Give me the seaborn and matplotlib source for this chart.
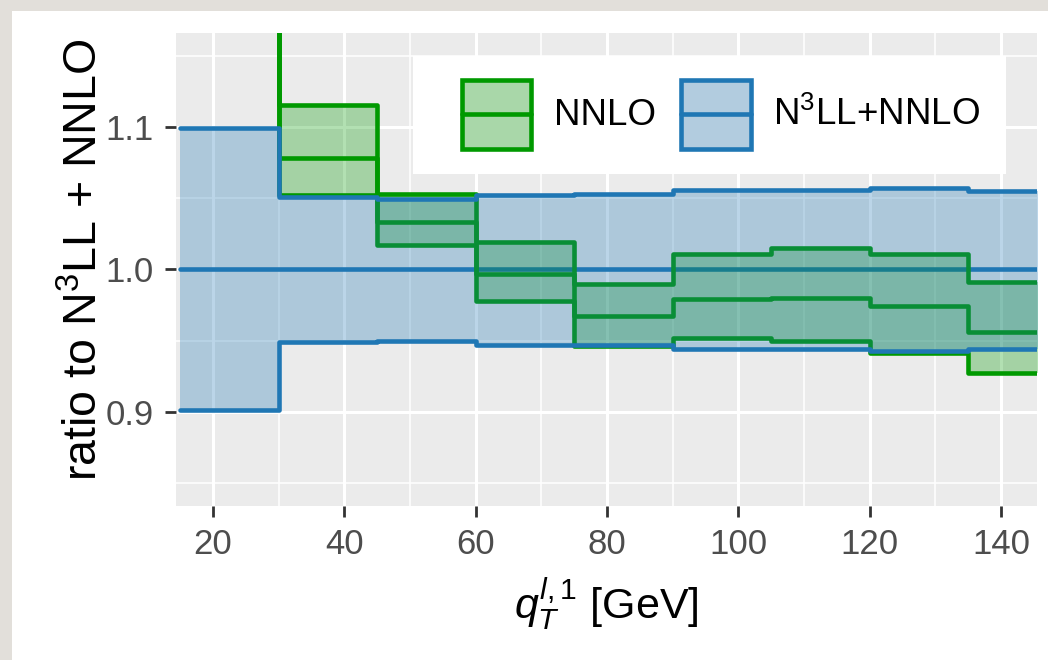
import numpy as np
import pandas as pd
import matplotlib
matplotlib.use("Agg")
import matplotlib.pyplot as plt
import seaborn as sns
from matplotlib.patches import Patch, Rectangle
from matplotlib.lines import Line2D
from matplotlib.legend_handler import HandlerBase
from matplotlib.ticker import MultipleLocator

# ---------------- data ----------------
bin_edges = [15, 30, 45, 60, 75, 90, 105, 120, 135, 150]
nnlo_central = [1.26, 1.078, 1.033, 0.997, 0.967, 0.979, 0.980, 0.974, 0.956]
nnlo_upper = [1.32, 1.115, 1.053, 1.019, 0.990, 1.011, 1.015, 1.011, 0.991]
nnlo_lower = [1.21, 1.052, 1.017, 0.978, 0.946, 0.952, 0.950, 0.9415, 0.927]
resum_central = [1.0, 1.0, 1.0, 1.0, 1.0, 1.0, 1.0, 1.0, 1.0]
resum_upper = [1.099, 1.051, 1.049, 1.052, 1.053, 1.056, 1.056, 1.057, 1.055]
resum_lower = [0.901, 0.949, 0.950, 0.947, 0.947, 0.944, 0.944, 0.9425, 0.944]
x_ticks = [20, 40, 60, 80, 100, 120, 140]
y_ticks = [0.9, 1.0, 1.1]
labels = ["NNLO", "N$^3$LL+NNLO"]

GREEN = "#009900"
BLUE = "#1F77B4"
LW = 3.3
ALPHA = 0.3

sns.set_theme(style="darkgrid")
plt.rcParams["font.family"] = ["Liberation Sans", "DejaVu Sans"]
plt.rcParams["mathtext.fontset"] = "custom"
plt.rcParams["mathtext.rm"] = "Liberation Sans"
plt.rcParams["mathtext.it"] = "Liberation Sans:italic"
plt.rcParams["mathtext.bf"] = "Liberation Sans:bold"

fig = plt.figure(figsize=(10.48, 6.6), dpi=100, facecolor="#E2DFDA")
# white card
fig.patches.append(Rectangle((12 / 1048, 0), 1.0, 1 - 11 / 660, transform=fig.transFigure,
                             facecolor="white", edgecolor="none", zorder=-10))
ax = fig.add_axes([176 / 1048, 1 - 506 / 660, (1037 - 176) / 1048, (506 - 32.7) / 660])
ax.set_zorder(1)
ax.set_facecolor("#EBEBEB")
for s in ax.spines.values():
    s.set_visible(False)


def ext(v):
    return list(v) + [v[-1]]


# central lines (drawn first)
sns.lineplot(x=bin_edges, y=ext(resum_central), drawstyle="steps-post", color=BLUE,
             linewidth=LW, zorder=2, ax=ax, estimator=None, sort=False)
sns.lineplot(x=bin_edges, y=ext(nnlo_central), drawstyle="steps-post", color=GREEN,
             linewidth=LW, zorder=2, ax=ax, estimator=None, sort=False)
# NNLO band
ax.fill_between(bin_edges, ext(nnlo_lower), ext(nnlo_upper), step="post", color=GREEN,
                alpha=ALPHA, lw=0, zorder=3)
for v in (nnlo_upper, nnlo_lower):
    sns.lineplot(x=bin_edges, y=ext(v), drawstyle="steps-post", color=GREEN,
                 linewidth=LW, zorder=3.1, ax=ax, estimator=None, sort=False)
# N3LL band
ax.fill_between(bin_edges, ext(resum_lower), ext(resum_upper), step="post", color=BLUE,
                alpha=ALPHA, lw=0, zorder=4)
for v in (resum_upper, resum_lower):
    sns.lineplot(x=bin_edges, y=ext(v), drawstyle="steps-post", color=BLUE,
                 linewidth=LW, zorder=4.1, ax=ax, estimator=None, sort=False)

ax.set_xlim(14.37, 145.5)
ax.set_ylim(0.834, 1.166)
ax.set_xticks(x_ticks)
ax.set_yticks(y_ticks)
ax.set_yticklabels([f"{t:.1f}" for t in y_ticks])
ax.xaxis.set_minor_locator(MultipleLocator(10))
ax.yaxis.set_minor_locator(MultipleLocator(0.05))
ax.grid(which="major", color="white", lw=2.2)
ax.grid(which="minor", color="white", lw=1.1)
ax.set_axisbelow(True)
ax.tick_params(which="major", length=8, width=2.0, color="#333333", labelcolor="#4D4D4D",
               labelsize=25, left=True, bottom=True)
ax.tick_params(axis="y", pad=8)
ax.tick_params(axis="x", pad=7.5)
ax.tick_params(which="minor", length=0)

ax.set_ylabel("ratio to N$^3$LL + NNLO", fontsize=33.5, color="black")
ax.yaxis.set_label_coords(-0.080, 0.52)
ax.set_xlabel(r"$\mathit{q}_{\mathit{T}}^{\mathit{l,1}}$ [GeV]", fontsize=31, color="black")
ax.xaxis.set_label_coords(0.5, -0.150)


class KeyHandler(HandlerBase):
    def create_artists(self, legend, orig_handle, xdescent, ydescent, width, height,
                       fontsize, trans):
        col = orig_handle.get_edgecolor()
        x0, y0 = -xdescent, -ydescent
        bg = Rectangle((x0, y0), width, height, facecolor="#F2F2F2", edgecolor="none",
                       transform=trans)
        fill = Rectangle((x0, y0), width, height, facecolor=col, alpha=ALPHA,
                         edgecolor="none", transform=trans)
        edge = Rectangle((x0, y0), width, height, facecolor="none", edgecolor=col,
                         lw=LW, transform=trans)
        line = Line2D([x0, x0 + width], [y0 + height / 2] * 2, color=col, lw=LW,
                      transform=trans)
        return [bg, fill, edge, line]


# legend background
ax.add_patch(Rectangle((0.2753, 0.7025), 0.9640 - 0.2753, 0.9515 - 0.7025,
                       transform=ax.transAxes, facecolor="white", edgecolor="none", zorder=1.5))
handles = [Patch(facecolor=GREEN, edgecolor=GREEN), Patch(facecolor=BLUE, edgecolor=BLUE)]
leg = ax.legend(handles, labels, handler_map={Patch: KeyHandler()},
                ncol=2, frameon=False, loc="center", bbox_to_anchor=(0.633, 0.828),
                fontsize=26.5, handlelength=1.88, handleheight=2.51, handletextpad=0.62,
                columnspacing=0.7, borderpad=0, labelcolor="black")

fig.savefig("out.png", dpi=100, facecolor=fig.get_facecolor())
